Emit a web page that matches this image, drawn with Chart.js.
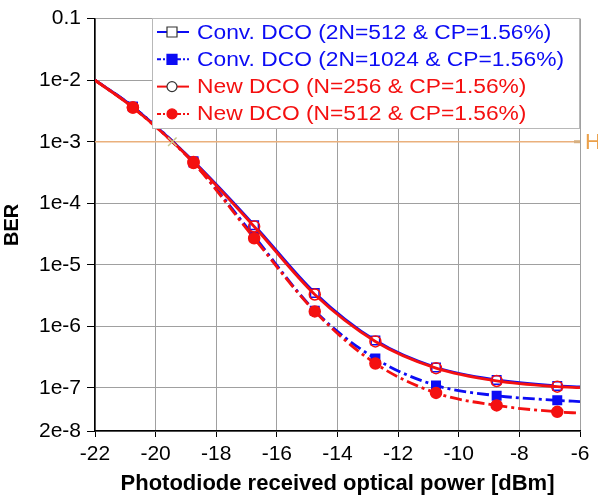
<!DOCTYPE html>
<html>
<head>
<meta charset="utf-8">
<script src="https://cdn.jsdelivr.net/npm/chart.js@4.4.1/dist/chart.umd.min.js"></script>
<style>
  html, body { margin: 0; padding: 0; background: #fff; }
  #wrap { width: 598px; height: 497px; position: relative; }
</style>
</head>
<body>
<div id="wrap"><canvas id="berChart"></canvas></div>
<script>
// x positions (dBm); first and last points are curve ends without markers
const power = [-22, -20.75, -18.75, -16.75, -14.75, -12.75, -10.75, -8.75, -6.75, -6];

const conv512  = [1e-2, 3.7e-3, 4.8e-4, 4.4e-5, 3.5e-6, 5.9e-7, 2.15e-7, 1.35e-7, 1.08e-7, 1.04e-7];
const conv1024 = [1e-2, 3.7e-3, 4.6e-4, 2.9e-5, 1.8e-6, 3.0e-7, 1.1e-7, 7.5e-8, 6.3e-8, 6.0e-8];
const new256   = [1e-2, 3.6e-3, 4.7e-4, 4.2e-5, 3.3e-6, 5.7e-7, 2.1e-7, 1.3e-7, 1.05e-7, 1.01e-7];
const new512   = [1e-2, 3.6e-3, 4.5e-4, 2.7e-5, 1.75e-6, 2.5e-7, 8.3e-8, 5.2e-8, 4.1e-8, 3.9e-8];

const legendLabels = [
  'Conv. DCO (2N=512 & CP=1.56%)',
  'Conv. DCO (2N=1024 & CP=1.56%)',
  'New DCO (N=256 & CP=1.56%)',
  'New DCO (N=512 & CP=1.56%)'
];

const fecLimit = 1e-3;
const fecCross = -19.45;

const yTickValues = [0.1, 1e-2, 1e-3, 1e-4, 1e-5, 1e-6, 1e-7, 2e-8];
const yTickLabels = ['0.1', '1e-2', '1e-3', '1e-4', '1e-5', '1e-6', '1e-7', '2e-8'];

const FONT = "'Liberation Sans', Arial, sans-serif";
const BLUE = '#0c0cf4';
const RED = '#f41010';
const dashDot = [12, 4, 3, 4];

function pts(ys) {
  return ys.map((y, i) => ({ x: power[i], y: y }));
}
function radii(r) {
  return power.map((p, i) => (i === 0 || i === power.length - 1) ? 0 : r);
}

const series = [
  { label: legendLabels[0], data: pts(conv512), borderColor: BLUE, backgroundColor: '#fff',
    pointStyle: 'rect', borderDash: [], filled: false, order: 4 },
  { label: legendLabels[1], data: pts(conv1024), borderColor: BLUE, backgroundColor: BLUE,
    pointStyle: 'rect', borderDash: dashDot, filled: true, order: 3 },
  { label: legendLabels[2], data: pts(new256), borderColor: RED, backgroundColor: 'rgba(255,255,255,0)',
    pointStyle: 'circle', borderDash: [], filled: false, order: 2 },
  { label: legendLabels[3], data: pts(new512), borderColor: RED, backgroundColor: RED,
    pointStyle: 'circle', borderDash: dashDot, filled: true, order: 1 }
];

const datasets = series.map(s => ({
  label: s.label,
  data: s.data,
  borderColor: s.borderColor,
  backgroundColor: s.backgroundColor,
  pointBackgroundColor: s.backgroundColor,
  pointBorderColor: s.borderColor,
  pointStyle: s.pointStyle,
  pointRadius: radii(s.pointStyle === 'rect' ? 6 : 5.5),
  pointBorderWidth: 1.5,
  borderWidth: 2.8,
  borderDash: s.borderDash,
  cubicInterpolationMode: 'monotone',
  order: s.order
}));

// FEC threshold line and crossing mark
datasets.push({
  label: 'H',
  data: [{ x: -22, y: fecLimit }, { x: -6, y: fecLimit }],
  borderColor: '#eab07c',
  borderWidth: 1.5,
  pointRadius: 0,
  order: 10
});
datasets.push({
  label: 'cross',
  data: [{ x: fecCross, y: fecLimit }],
  showLine: false,
  pointStyle: 'crossRot',
  pointRadius: 6,
  pointBorderWidth: 1.5,
  pointBorderColor: '#c8c48c',
  order: 0
});

const legendPlugin = {
  id: 'boxLegend',
  afterDraw(chart) {
    const c = chart.ctx;
    const x0 = 152, y0 = 18, w = 427, h = 110;
    c.save();
    c.fillStyle = '#fff';
    c.fillRect(x0, y0, w, h);
    c.strokeStyle = '#b8b8b8';
    c.lineWidth = 1;
    c.strokeRect(x0 + 0.5, y0 + 0.5, w, h);
    c.font = '20px ' + FONT;
    c.textBaseline = 'middle';
    series.forEach((s, i) => {
      const y = 32 + i * 27.3;
      c.strokeStyle = s.borderColor;
      c.lineWidth = 2;
      c.setLineDash(s.borderDash.length ? [4, 2, 2, 2] : []);
      c.beginPath();
      c.moveTo(157, y);
      c.lineTo(189, y);
      c.stroke();
      c.setLineDash([]);
      c.fillStyle = s.filled ? s.backgroundColor : '#fff';
      c.strokeStyle = s.filled ? s.borderColor : '#333';
      c.lineWidth = 1.2;
      c.beginPath();
      if (s.pointStyle === 'rect') {
        c.rect(167, y - 5, 10, 10);
      } else {
        c.arc(172, y, 5, 0, Math.PI * 2);
      }
      c.fill();
      c.stroke();
      c.fillStyle = s.borderColor;
      c.save();
      c.translate(197, y + 1);
      c.scale(1.14, 1);
      c.fillText(s.label, 0, 0);
      c.restore();
    });
    // threshold label at the right edge
    const yy = chart.scales.y.getPixelForValue(fecLimit);
    c.fillStyle = '#eba04a';
    c.font = '22px ' + FONT;
    c.fillText('H', 585, yy + 1);
    c.fillStyle = '#d8b080';
    c.fillRect(chart.chartArea.right - 6, yy - 1.5, 6, 3);
    c.restore();
  }
};

new Chart(document.getElementById('berChart'), {
  type: 'line',
  data: { datasets: datasets },
  options: {
    responsive: true,
    maintainAspectRatio: false,
    animation: false,
    layout: { padding: { top: 17, right: 18, left: 0, bottom: 0 } },
    plugins: {
      legend: { display: false },
      tooltip: { enabled: false }
    },
    scales: {
      x: {
        type: 'linear',
        min: -22,
        max: -6,
        ticks: { stepSize: 2, color: '#000', font: { family: FONT, size: 21 }, padding: 5, maxRotation: 0 },
        grid: { color: '#a0a0a0', lineWidth: 1, borderDash: [1, 2], tickColor: '#000', tickLength: 6, tickBorderDash: [] },
        border: { display: true, color: '#000', width: 1.5 },
        title: { display: true, text: 'Photodiode received optical power [dBm]', color: '#000',
                 font: { family: FONT, size: 22, weight: 'bold' }, padding: { top: 1, bottom: 0 } },
        afterFit(scale) { scale.height = 66; }
      },
      y: {
        type: 'logarithmic',
        min: 2e-8,
        max: 0.1,
        afterBuildTicks(scale) {
          scale.ticks = yTickValues.map(v => ({ value: v }));
        },
        ticks: {
          color: '#000',
          font: { family: FONT, size: 21 },
          padding: 6,
          callback: (v) => {
            const i = yTickValues.findIndex(t => Math.abs(t - v) / t < 1e-6);
            return i >= 0 ? yTickLabels[i] : '';
          }
        },
        grid: { color: '#a0a0a0', lineWidth: 1, borderDash: [1, 2], tickColor: '#000', tickLength: 8, tickBorderDash: [] },
        border: { display: true, color: '#000', width: 1.5 },
        title: { display: true, text: 'BER', color: '#000',
                 font: { family: FONT, size: 20, weight: 'bold' }, padding: { top: 0, bottom: 2 } },
        afterFit(scale) { scale.width = 95; }
      }
    }
  },
  plugins: [legendPlugin]
});
</script>
</body>
</html>
